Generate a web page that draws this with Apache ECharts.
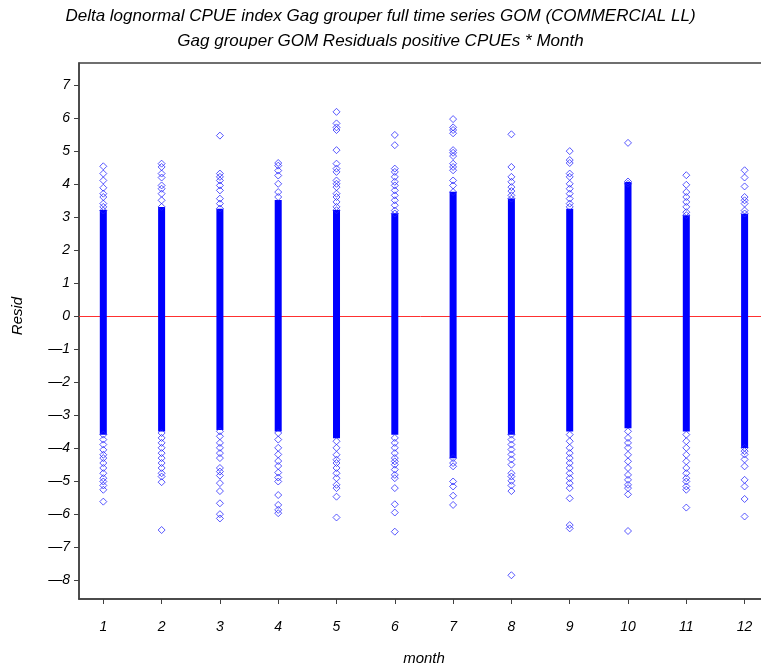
<!DOCTYPE html>
<html>
<head>
<meta charset="utf-8">
<script src="https://cdn.jsdelivr.net/npm/echarts@6/dist/echarts.min.js"></script>
<style>
html,body{margin:0;padding:0;background:#fff;}
#chart{width:761px;height:669px;}
</style>
</head>
<body>
<div id="chart"></div>
<script>
const titleLine1 = 'Delta lognormal CPUE index Gag grouper full time series GOM (COMMERCIAL LL)';
const titleLine2 = 'Gag grouper GOM Residuals positive CPUEs * Month';
const xName = 'month';
const yName = 'Resid';
const xTicks = [1,2,3,4,5,6,7,8,9,10,11,12];
const yTicks = [-8,-7,-6,-5,-4,-3,-2,-1,0,1,2,3,4,5,6,7];
const months = [1,2,3,4,5,6,7,8,9,10,11,12];
// dense core of residuals per month (low, high)
const coreLow  = [-3.5, -3.4, -3.35, -3.4, -3.6, -3.5, -4.21, -3.5, -3.4, -3.3, -3.4, -3.9];
const coreHigh = [3.1, 3.19, 3.14, 3.4, 3.1, 3.0, 3.65, 3.45, 3.14, 3.95, 2.94, 2.99];
// individually visible residuals per month
const resid01 = [4.53,4.31,4.1,3.88,3.7,3.6,3.4,3.3,3.19,-3.6,-3.75,-3.9,-4.06,-4.21,-4.31,-4.46,-4.61,-4.77,-4.92,-5.02,-5.14,-5.27,-5.63];
const resid02 = [4.61,4.51,4.31,4.19,3.95,3.85,3.7,3.5,3.3,-3.55,-3.7,-3.85,-4.0,-4.16,-4.31,-4.46,-4.61,-4.77,-4.87,-5.04,-6.49];
const resid03 = [5.46,4.31,4.21,4.1,3.95,3.8,3.55,3.4,3.25,-3.5,-3.65,-3.85,-4.0,-4.16,-4.31,-4.61,-4.72,-4.84,-5.07,-5.31,-5.68,-6.01,-6.14];
const resid04 = [4.63,4.55,4.4,4.25,4.0,3.75,3.6,-3.55,-3.75,-4.0,-4.2,-4.4,-4.55,-4.75,-4.9,-5.02,-5.43,-5.73,-5.88,-5.98];
const resid05 = [6.18,5.83,5.71,5.63,5.02,4.61,4.46,4.36,4.1,4.0,3.9,3.7,3.6,3.45,3.3,3.2,-3.8,-4.0,-4.21,-4.36,-4.46,-4.61,-4.77,-4.92,-5.12,-5.22,-5.48,-6.11];
const resid06 = [5.48,5.17,4.46,4.36,4.21,4.06,3.95,3.8,3.65,3.5,3.35,3.19,3.1,-3.7,-3.85,-4.0,-4.16,-4.31,-4.41,-4.51,-4.66,-4.82,-4.92,-5.22,-5.71,-5.96,-6.54];
const resid07 = [5.96,5.71,5.63,5.53,5.02,4.94,4.84,4.61,4.51,4.41,4.1,3.95,3.75,-4.31,-4.46,-4.56,-5.02,-5.17,-5.45,-5.73];
const resid08 = [5.5,4.51,4.21,4.06,3.9,3.78,3.65,3.55,-3.6,-3.75,-3.9,-4.05,-4.2,-4.35,-4.51,-4.77,-4.87,-5.0,-5.14,-5.31,-7.86];
const resid09 = [4.99,4.72,4.63,4.31,4.21,4.0,3.85,3.7,3.55,3.4,3.3,-3.6,-3.8,-4.0,-4.16,-4.31,-4.46,-4.61,-4.77,-4.92,-5.07,-5.22,-5.53,-6.34,-6.44];
const resid10 = [5.24,4.07,4.0,-3.5,-3.7,-3.85,-4.0,-4.21,-4.41,-4.61,-4.82,-4.97,-5.12,-5.22,-5.41,-6.52];
const resid11 = [4.26,3.97,3.75,3.6,3.45,3.3,3.14,3.05,-3.6,-3.8,-4.0,-4.21,-4.41,-4.61,-4.77,-4.92,-5.02,-5.17,-5.27,-5.81];
const resid12 = [4.41,4.19,3.92,3.6,3.5,3.4,3.19,3.1,-4.0,-4.1,-4.2,-4.35,-4.56,-4.97,-5.17,-5.55,-6.08];

const residByMonth = [resid01,resid02,resid03,resid04,resid05,resid06,resid07,resid08,resid09,resid10,resid11,resid12];
const scatterData = [];
residByMonth.forEach((arr, i) => arr.forEach(v => scatterData.push([months[i], v])));
const coreData = months.map((m, i) => [m, coreLow[i], coreHigh[i]]);

const FONT = "'Liberation Sans', Arial, sans-serif";
const minusFmt = v => String(v).replace('-', '\u2014');
const chart = echarts.init(document.getElementById('chart'), null, {renderer: 'canvas'});
chart.setOption({
  animation: false,
  backgroundColor: '#ffffff',
  title: {
    text: titleLine1 + '\n' + titleLine2,
    left: 'center',
    top: -1,
    textStyle: {fontFamily: FONT, fontStyle: 'italic', fontWeight: 'normal', fontSize: 17, color: '#000', lineHeight: 25}
  },
  graphic: [{
    type: 'text', x: 18, y: 316, rotation: Math.PI / 2,
    style: {text: yName, textAlign: 'center', textVerticalAlign: 'middle', font: "italic 15px 'Liberation Sans', Arial, sans-serif", fill: '#000'}
  }],
  grid: {left: 79, top: 63, width: 700, bottom: 70, outerBoundsMode: 'none', containLabel: false, show: true, borderColor: '#404040', borderWidth: 1.5, backgroundColor: 'transparent'},
  xAxis: {
    type: 'value', min: 0.583, max: 12.59,
    name: xName, nameLocation: 'middle', nameGap: 52,
    nameTextStyle: {fontFamily: FONT, fontStyle: 'italic', fontSize: 15, color: '#000', padding: [0, 10, 0, 0]},
    axisLine: {show: true, onZero: false, lineStyle: {color: '#404040', width: 1.5}},
    axisTick: {show: true, length: 5, customValues: xTicks, lineStyle: {color: '#404040'}},
    axisLabel: {customValues: xTicks, margin: 21, fontFamily: FONT, fontStyle: 'italic', fontSize: 14, color: '#000'},
    splitLine: {show: false}
  },
  yAxis: {
    type: 'value', min: -8.58, max: 7.66,
    axisLine: {show: true, onZero: false, lineStyle: {color: '#404040', width: 1.5}},
    axisTick: {show: true, length: 5, customValues: yTicks, lineStyle: {color: '#404040'}},
    axisLabel: {customValues: yTicks, margin: 9, formatter: minusFmt, fontFamily: FONT, fontStyle: 'italic', fontSize: 14, color: '#000'},
    splitLine: {show: false}
  },
  series: [
    {
      type: 'custom',
      z: 2,
      data: coreData,
      renderItem: function (params, api) {
        const top = api.coord([api.value(0), api.value(2)]);
        const bot = api.coord([api.value(0), api.value(1)]);
        return {
          type: 'rect',
          shape: {x: top[0] - 3.5, y: top[1] - 3.5, width: 7, height: bot[1] - top[1] + 7},
          style: {fill: '#0000ff'}
        };
      },
      markLine: {
        silent: true, symbol: 'none', label: {show: false},
        lineStyle: {color: '#ff3030', width: 1, type: 'solid'},
        data: [{yAxis: 0}],
        z: 1
      }
    },
    {
      type: 'scatter',
      z: 3,
      symbol: 'diamond',
      symbolSize: 7,
      data: scatterData,
      itemStyle: {color: 'rgba(0,0,0,0)', borderColor: '#2020ff', borderWidth: 1, opacity: 0.75}
    }
  ]
});
</script>
</body>
</html>
